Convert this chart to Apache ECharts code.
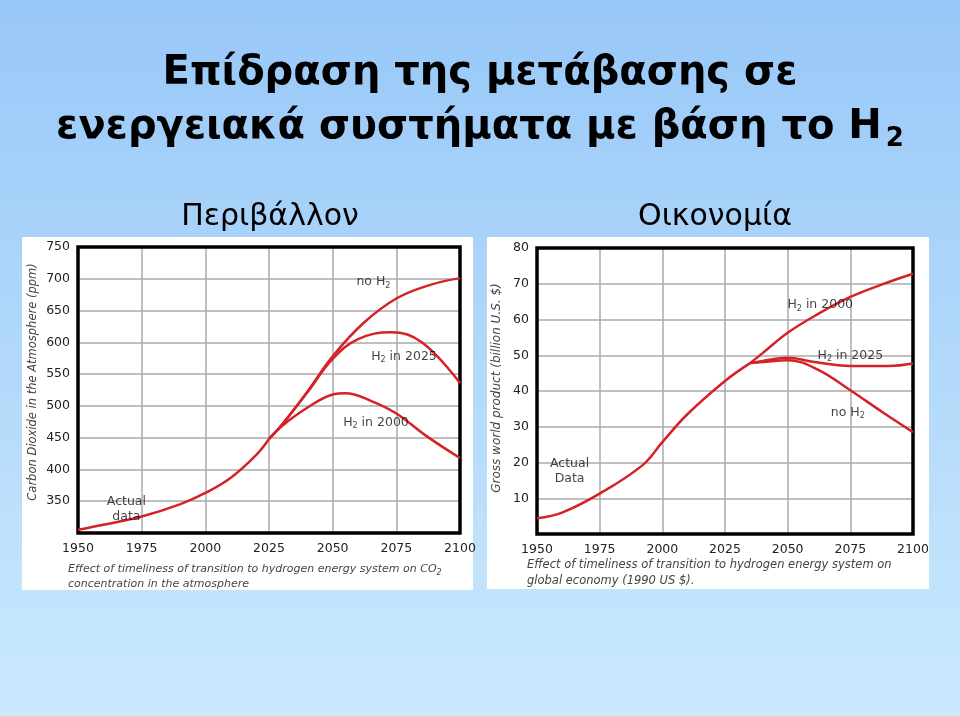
<!DOCTYPE html>
<html><head><meta charset="utf-8">
<script src="https://cdn.jsdelivr.net/npm/echarts@6/dist/echarts.min.js"></script>
<style>html,body{margin:0;padding:0;}body{width:960px;height:716px;background:linear-gradient(#98c8f8,#cbe9fd);}#c{width:960px;height:716px;}</style>
</head><body><div id="c"></div>
<script>
const years = [1950,1975,2000,2025,2050,2075,2100];
// CO2 (ppm)
const co2Actual = [[1950,305],[1960,313],[1975,326],[1990,345],[2000,363],[2010,387],[2020,423],[2025,448]];
const co2NoH2 = [[2025,448],[2030,470],[2040,522],[2050,578],[2062,630],[2075,669],[2088,690],[2100,701]];
const co2H2in2025 = [[2025,448],[2030,470],[2040,521],[2050,574],[2060,605],[2073,616],[2085,600],[2100,536]];
const co2H2in2000 = [[2025,448],[2030,468],[2040,497],[2050,518],[2055,520],[2065,508],[2075,488],[2087,452],[2100,418]];
// Gross world product (billion U.S. $)
const gwpActual = [[1950,4.4],[1960,6],[1975,11.3],[1992,19.2],[2000,25.7],[2010,33.5],[2025,42.8],[2035,47.8]];
const gwpH2in2000 = [[2035,47.8],[2040,50.6],[2050,56.3],[2062,61.5],[2075,66.3],[2088,69.9],[2100,72.8]];
const gwpH2in2025 = [[2035,47.8],[2040,48.4],[2050,49.3],[2060,48.2],[2075,47],[2090,47],[2100,47.7]];
const gwpNoH2 = [[2035,47.8],[2040,48.1],[2050,48.6],[2062,46],[2075,40.2],[2088,34],[2100,28.5]];
const co2Ticks = [350,400,450,500,550,600,650,700,750];

const red = '#d42226';
const ch = echarts.init(document.getElementById('c'), null, {renderer:'canvas'});
const F = 'DejaVu Sans';
function ln(data, xi){return {type:'line',xAxisIndex:xi,yAxisIndex:xi,data:data,smooth:0.4,symbol:'none',lineStyle:{color:red,width:2.5},z:5};}
function lbl(coord, text, xi){return {type:'scatter',xAxisIndex:xi,yAxisIndex:xi,data:[{value:coord}],symbolSize:0,silent:true,
  label:{show:true,position:'inside',formatter:text,fontFamily:F,fontSize:12.5,color:'#111',lineHeight:15,
  rich:{s:{fontSize:8,fontFamily:F,color:'#111',verticalAlign:'bottom',padding:[8,0,0,0]}}},z:6};}
const xa = (gi)=>({type:'value',gridIndex:gi,min:1950,max:2100,interval:25,
  axisLine:{show:false},axisTick:{show:false},
  axisLabel:{fontFamily:F,fontSize:12.5,color:'#222',margin:9,formatter:v=>String(v)},
  splitLine:{show:true,lineStyle:{color:'#aaa',width:1.5}}});
ch.setOption({
  animation:false,
  graphic:[
    {type:'rect',shape:{x:22,y:237,width:451,height:353},style:{fill:'#fff'},z:-10},
    {type:'rect',shape:{x:487,y:237,width:442,height:352},style:{fill:'#fff'},z:-10},
    {type:'text',left:'center',top:54,style:{text:'Επίδραση της μετάβασης σε',font:'bold 40px "DejaVu Sans"',fill:'#000'}},
    {type:'text',left:'center',top:108,style:{text:'ενεργειακά συστήματα με βάση το Η{s|2}',font:'bold 40px "DejaVu Sans"',fill:'#000',
      rich:{s:{font:'bold 26px "DejaVu Sans"',fill:'#000',padding:[22,0,0,4]}}}},
    {type:'text',x:270,y:217,style:{text:'Περιβάλλον',font:'30px "DejaVu Sans"',fill:'#000',align:'center',verticalAlign:'middle'}},
    {type:'text',x:715,y:217,style:{text:'Οικονομία',font:'30px "DejaVu Sans"',fill:'#000',align:'center',verticalAlign:'middle'}},
    {type:'text',x:68,y:562,style:{text:'Effect of timeliness of transition to hydrogen energy system on CO{s|2}\nconcentration in the atmosphere',font:'italic 11px "DejaVu Sans"',fill:'#444',lineHeight:15,
      rich:{s:{font:'italic 8px "DejaVu Sans"',fill:'#444',padding:[6,0,0,0]}}}},
    {type:'text',x:527,y:557,style:{text:'Effect of timeliness of transition to hydrogen energy system on\nglobal economy (1990 US $).',font:'italic 11.5px "DejaVu Sans"',fill:'#444',lineHeight:16}},
    {type:'text',x:33,y:382,rotation:Math.PI/2,style:{text:'Carbon Dioxide in the Atmosphere (ppm)',font:'italic 11.5px "DejaVu Sans"',fill:'#444',align:'center',verticalAlign:'middle'}},
    {type:'text',x:497,y:388,rotation:Math.PI/2,style:{text:'Gross world product (billion U.S. $)',font:'italic 12px "DejaVu Sans"',fill:'#444',align:'center',verticalAlign:'middle'}}
  ],
  grid:[
    {left:78,top:247,width:382,height:286,show:true,borderColor:'#000',borderWidth:3.5,backgroundColor:'transparent',z:4},
    {left:537,top:248,width:376,height:286,show:true,borderColor:'#000',borderWidth:3.5,backgroundColor:'transparent',z:4}
  ],
  xAxis:[xa(0),xa(1)],
  yAxis:[
    {type:'value',gridIndex:0,min:300,max:750,interval:50,axisLine:{show:false},axisTick:{show:false},
      axisLabel:{fontFamily:F,fontSize:12.5,color:'#222',margin:8,formatter:v=>co2Ticks.includes(v)?String(v):''},
      splitLine:{lineStyle:{color:'#aaa',width:1.5}}},
    {type:'value',gridIndex:1,min:0,max:80,interval:10,axisLine:{show:false},axisTick:{show:false},
      axisLabel:{fontFamily:F,fontSize:12.5,color:'#222',margin:8,formatter:v=>v===0?'':String(v)},
      splitLine:{lineStyle:{color:'#aaa',width:1.5}}}
  ],
  series:[
    ln(co2Actual,0),ln(co2NoH2,0),ln(co2H2in2025,0),ln(co2H2in2000,0),
    ln(gwpActual,1),ln(gwpH2in2000,1),ln(gwpH2in2025,1),ln(gwpNoH2,1),
    lbl([1969,337],'Actual\ndata',0),
    lbl([2066,695],'no H{s|2}',0),
    lbl([2078,578],'H{s|2} in 2025',0),
    lbl([2067,474],'H{s|2} in 2000',0),
    lbl([1963,17.5],'Actual\nData',1),
    lbl([2063,64],'H{s|2} in 2000',1),
    lbl([2075,50],'H{s|2} in 2025',1),
    lbl([2074,34],'no H{s|2}',1)
  ]
});
</script></body></html>
